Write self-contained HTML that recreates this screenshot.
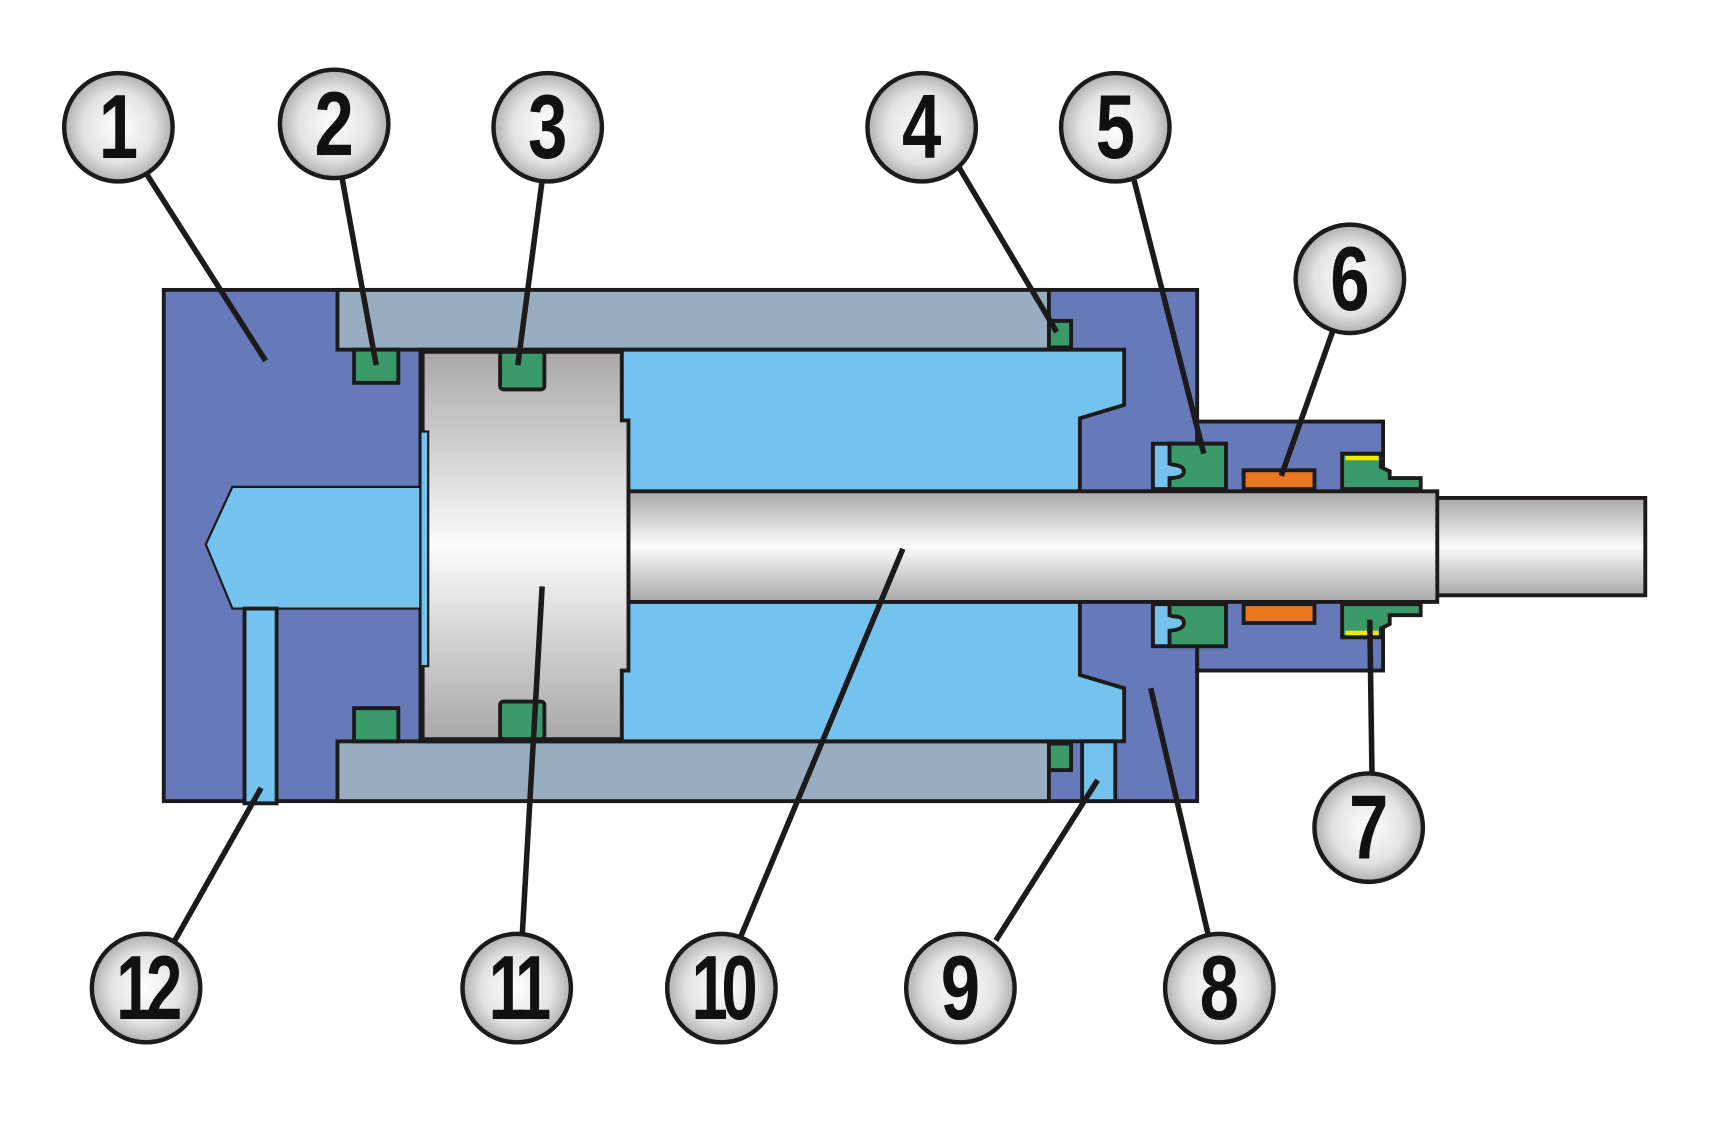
<!DOCTYPE html>
<html><head><style>html,body{margin:0;padding:0;background:#fff}svg{display:block}</style></head>
<body>
<svg width="1715" height="1122" viewBox="0 0 1550 1014" preserveAspectRatio="none" xmlns="http://www.w3.org/2000/svg">
<defs>
<linearGradient id="rod" x1="0" y1="0" x2="0" y2="1">
<stop offset="0" stop-color="#a9a7a7"/><stop offset="0.5" stop-color="#fbfbfb"/><stop offset="1" stop-color="#a9a7a7"/></linearGradient>
<radialGradient id="ball" cx="0.5" cy="0.5" r="0.55">
<stop offset="0" stop-color="#ffffff"/><stop offset="0.6" stop-color="#e2e2e2"/><stop offset="1" stop-color="#a0a0a0"/></radialGradient>
</defs>
<g stroke="#1c1a1a" stroke-width="3.5" stroke-linejoin="miter">
<rect x="148" y="262" width="934" height="462" fill="#6679b8"/>
<polygon points="1082,381 1250,381 1250,606 1082,606" fill="#6679b8"/>
<rect x="305" y="262" width="643" height="54" fill="#98aec0"/>
<rect x="305" y="670" width="643" height="54" fill="#98aec0"/>
<polygon points="380,316 1016,316 1016,366 976,378 976,610 1016,622 1016,670 380,670" fill="#74c2ee"/>
<polygon points="210,440 380,440 380,550 210,550 186,492" fill="#74c2ee" stroke-width="2"/>
<rect x="221" y="550" width="29" height="176" fill="#74c2ee"/>
<rect x="978" y="670" width="30" height="54" fill="#74c2ee"/>
<polygon points="382,318 562,318 562,380 568,380 568,606 562,606 562,668 382,668" fill="url(#rod)"/>
<rect x="380" y="390" width="7" height="212" fill="#74c2ee" stroke-width="2"/>
<g fill="#3a9a6a">
<rect x="320" y="316" width="40" height="30"/><rect x="320" y="640" width="40" height="30"/>
<rect x="452" y="318" width="40" height="34" rx="3"/><rect x="452" y="634" width="40" height="34" rx="3"/>
<rect x="948" y="290" width="20" height="24"/><rect x="948" y="672" width="20" height="24"/>
</g>
<rect x="1042" y="401" width="66" height="41" fill="#74c2ee"/>
<path d="M1057,401 L1108,401 L1108,442 L1057,442 L1057,432 Q1070,432 1070,426 Q1070,421 1060,420 L1057,419 Z" fill="#3a9a6a"/>
<rect x="1042" y="546" width="66" height="38" fill="#74c2ee"/>
<path d="M1057,546 L1108,546 L1108,584 L1057,584 L1057,570 Q1070,569 1070,563 Q1070,557 1060,557 L1057,556 Z" fill="#3a9a6a"/>
<rect x="1124" y="425" width="64" height="17" fill="#e87820"/>
<rect x="1124" y="546" width="64" height="17" fill="#e87820"/>
<polygon points="1213,410 1248,410 1248,422 1256,426 1256,432 1284,432 1284,442 1213,442" fill="#3a9a6a"/>
<polygon points="1213,546 1284,546 1284,556 1256,556 1256,564 1248,568 1248,576 1213,576" fill="#3a9a6a"/>
<rect x="1216" y="412" width="30" height="4" fill="#f5e800" stroke="none"/>
<rect x="1216" y="570" width="30" height="4" fill="#f5e800" stroke="none"/>
<rect x="1298" y="450" width="189" height="88" fill="url(#rod)"/>
<rect x="568" y="444" width="731" height="100" fill="url(#rod)"/>
</g>
<g stroke="#1c1a1a" stroke-width="5" fill="none">
<line x1="133" y1="158" x2="240" y2="326"/>
<line x1="309" y1="160" x2="340" y2="330"/>
<line x1="490" y1="163" x2="468" y2="330"/>
<line x1="866" y1="150" x2="955" y2="300"/>
<line x1="1025" y1="163" x2="1088" y2="410"/>
<line x1="1205" y1="298" x2="1158" y2="430"/>
<line x1="1240" y1="700" x2="1238" y2="560"/>
<line x1="1092" y1="845" x2="1040" y2="622"/>
<line x1="900" y1="850" x2="992" y2="705"/>
<line x1="668" y1="850" x2="816" y2="496"/>
<line x1="472" y1="845" x2="490" y2="530"/>
<line x1="158" y1="850" x2="236" y2="712"/>
</g>
<g stroke="#1c1a1a" stroke-width="4" fill="url(#ball)">
<circle cx="107" cy="115" r="49"/><circle cx="302" cy="112" r="49"/>
<circle cx="495" cy="115" r="49"/><circle cx="833" cy="115" r="49"/>
<circle cx="1008" cy="115" r="49"/><circle cx="1220" cy="252" r="49"/>
<circle cx="1237" cy="748" r="49"/><circle cx="1102" cy="893" r="49"/>
<circle cx="868" cy="893" r="49"/><circle cx="652" cy="893" r="49"/>
<circle cx="467" cy="893" r="49"/><circle cx="132" cy="893" r="49"/>
</g>
<g font-family="Liberation Sans, sans-serif" font-weight="bold" font-size="82" text-anchor="middle" fill="#111">
<text transform="translate(107,143) scale(0.78,1)">1</text>
<text transform="translate(302,140) scale(0.78,1)">2</text>
<text transform="translate(495,143) scale(0.78,1)">3</text>
<text transform="translate(833,143) scale(0.78,1)">4</text>
<text transform="translate(1008,143) scale(0.78,1)">5</text>
<text transform="translate(1220,280) scale(0.78,1)">6</text>
<text transform="translate(1237,776) scale(0.78,1)">7</text>
<text transform="translate(1102,921) scale(0.78,1)">8</text>
<text transform="translate(868,921) scale(0.78,1)">9</text>
<text transform="translate(652,921) scale(0.72,1)" letter-spacing="-8">10</text>
<text transform="translate(467,921) scale(0.72,1)" letter-spacing="-8">11</text>
<text transform="translate(132,921) scale(0.72,1)" letter-spacing="-8">12</text>
</g>
</svg>
</body></html>
